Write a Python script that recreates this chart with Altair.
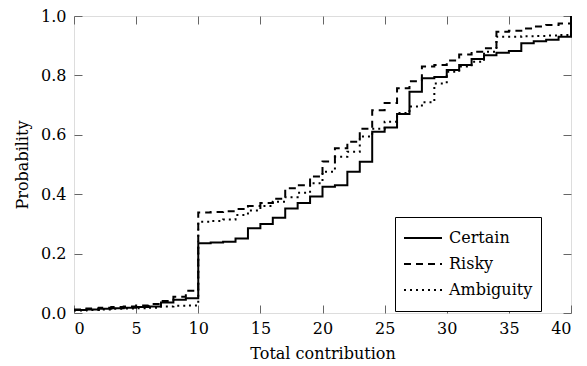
import altair as alt
import pandas as pd

x_values = list(range(0, 41))
certain = [0.010, 0.012, 0.014, 0.016, 0.018, 0.020, 0.022, 0.035, 0.045, 0.050,
           0.235, 0.237, 0.240, 0.251, 0.285, 0.300, 0.321, 0.352, 0.370, 0.392,
           0.425, 0.430, 0.476, 0.509, 0.610, 0.625, 0.670, 0.745, 0.790, 0.795,
           0.818, 0.835, 0.855, 0.868, 0.876, 0.882, 0.908, 0.915, 0.920, 0.930,
           1.000]
risky = [0.012, 0.015, 0.018, 0.020, 0.022, 0.025, 0.030, 0.040, 0.055, 0.075,
         0.338, 0.340, 0.343, 0.350, 0.360, 0.370, 0.385, 0.420, 0.430, 0.460,
         0.510, 0.555, 0.577, 0.620, 0.683, 0.707, 0.757, 0.780, 0.830, 0.835,
         0.850, 0.870, 0.880, 0.891, 0.947, 0.950, 0.958, 0.965, 0.970, 0.975,
         1.000]
ambiguity = [0.008, 0.010, 0.012, 0.014, 0.015, 0.016, 0.018, 0.022, 0.024, 0.025,
             0.307, 0.310, 0.315, 0.330, 0.345, 0.360, 0.375, 0.390, 0.405, 0.437,
             0.476, 0.526, 0.543, 0.594, 0.620, 0.644, 0.673, 0.695, 0.710, 0.773,
             0.812, 0.830, 0.846, 0.880, 0.930, 0.930, 0.932, 0.933, 0.934, 0.936,
             1.000]
series_names = ["Certain", "Risky", "Ambiguity"]
x_ticks = [0, 5, 10, 15, 20, 25, 30, 35, 40]
y_ticks = [0.0, 0.2, 0.4, 0.6, 0.8, 1.0]

rows = []
for name, vals in zip(series_names, [certain, risky, ambiguity]):
    for xv, pv in zip(x_values, vals):
        rows.append({"x": xv, "p": pv, "series": name})
df = pd.DataFrame(rows)

FONT = "DejaVu Serif"
FS = 16
TL = 8

xscale = alt.Scale(domain=[0, 40], nice=False, zero=False)
yscale = alt.Scale(domain=[0, 1], nice=False)

base = alt.Chart(df)

lines = base.mark_line(interpolate="step-after", strokeWidth=2, color="black").encode(
    x=alt.X("x:Q", scale=xscale,
            axis=alt.Axis(values=x_ticks, orient="bottom", offset=-TL, tickSize=TL,
                          tickColor="#666", domain=False, grid=False, labelPadding=7,
                          labelFont=FONT, labelFontSize=FS, labelColor="black",
                          title="Total contribution", titleFont=FONT, titleFontSize=FS,
                          titleFontWeight="normal", titleColor="black", titlePadding=9)),
    y=alt.Y("p:Q", scale=yscale,
            axis=alt.Axis(values=y_ticks, format=".1f", orient="left", offset=-TL, tickSize=TL,
                          tickColor="#666", domain=False, grid=False, labelPadding=8,
                          labelFont=FONT, labelFontSize=FS, labelColor="black",
                          title="Probability", titleFont=FONT, titleFontSize=FS,
                          titleFontWeight="normal", titleColor="black", titlePadding=10)),
    strokeDash=alt.StrokeDash(
        "series:N",
        scale=alt.Scale(domain=series_names, range=[[1, 0], [7, 5], [2, 4]]),
        legend=alt.Legend(orient="none", legendX=321, legendY=201, title=None,
                          strokeColor="black", fillColor="white", padding=8,
                          symbolType="stroke", symbolSize=1444, symbolStrokeWidth=2,
                          symbolStrokeColor="black", clipHeight=26, rowPadding=0,
                          labelFont=FONT, labelFontSize=FS, labelColor="black",
                          labelOffset=6, cornerRadius=0),
    ),
)

ticks_other = base.mark_point(opacity=0).encode(
    x=alt.X("x:Q", scale=xscale,
            axis=alt.Axis(values=x_ticks, orient="top", offset=-TL, tickSize=TL,
                          tickColor="#666", domain=False, grid=False, labels=False, title=None)),
    y=alt.Y("p:Q", scale=yscale,
            axis=alt.Axis(values=y_ticks, orient="right", offset=-TL, tickSize=TL,
                          tickColor="#666", domain=False, grid=False, labels=False, title=None)),
)

chart = alt.layer(lines, ticks_other).resolve_axis(x="independent", y="independent").properties(
    width=497, height=297,
    autosize=alt.AutoSizeParams(type="none"),
    padding={"left": 66, "top": 8, "right": 8, "bottom": 52},
).configure_view(stroke="#222", strokeWidth=1).configure(background="white")

chart.save("out.html", embed_options={"renderer": "svg", "actions": False})
